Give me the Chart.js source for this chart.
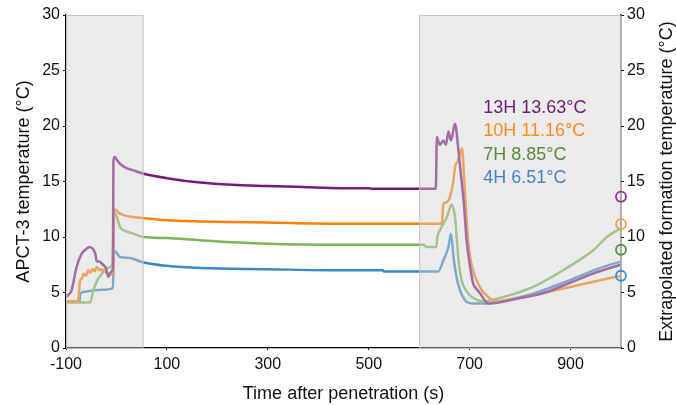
<!DOCTYPE html>
<html>
<head>
<meta charset="utf-8">
<script src="https://cdn.jsdelivr.net/npm/chart.js@4.4.1/dist/chart.umd.min.js"></script>
<style>
  html, body { margin: 0; padding: 0; background: #fff; }
</style>
</head>
<body>
<canvas id="tempChart" width="676" height="405"></canvas>
<script>
// 探针温度数据 (s, °C)
const t13 = [-100, -95, -89, -79, -69, -60, -54, -48, -42, -39, -34, -29, -21, -16, -12, -7, -6, -3, 0, 7, 20, 33, 54, 100, 166, 230, 298, 370, 443, 500, 505, 600, 633, 635, 641, 648, 653, 658, 663, 671, 678, 683, 688, 694, 701, 707, 714, 721, 737, 800, 850, 900, 950, 1000];
const v13 = [4.6, 4.8, 5.2, 7.3, 8.5, 8.9, 9.1, 9.0, 8.5, 7.8, 7.8, 7.6, 7.2, 6.4, 6.8, 7.2, 16.9, 17.2, 17.0, 16.6, 16.2, 16.0, 15.7, 15.3, 14.9, 14.7, 14.6, 14.5, 14.4, 14.4, 14.35, 14.35, 14.35, 19.0, 18.3, 18.7, 18.3, 19.5, 18.7, 20.2, 17.7, 15.5, 13.3, 9.7, 7.3, 5.8, 5.3, 4.9, 4.0, 4.5, 5.0, 5.9, 6.8, 7.5];

const t10 = [-100, -80, -76, -72, -68, -65, -60, -56, -52, -47, -43, -39, -34, -30, -26, -21, -16, -12, -6, -5, -3, 7, 20, 33, 54, 100, 166, 298, 443, 600, 645, 648, 653, 658, 661, 668, 671, 676, 681, 685, 689, 693, 697, 702, 711, 724, 737, 750, 800, 850, 900, 958, 1000];
const v10 = [4.2, 4.2, 4.3, 6.1, 6.3, 6.7, 6.5, 7.0, 6.8, 7.1, 6.9, 7.3, 7.0, 7.1, 7.0, 6.8, 6.7, 6.6, 6.9, 12.3, 12.5, 12.1, 11.9, 11.8, 11.7, 11.5, 11.4, 11.3, 11.2, 11.2, 11.2, 13.0, 13.1, 13.3, 13.6, 15.1, 16.3, 16.8, 17.5, 18.0, 15.4, 12.4, 9.7, 7.9, 6.4, 5.2, 4.6, 4.2, 4.5, 5.0, 5.5, 6.1, 6.5];

const t7 = [-100, -52, -46, -39, -29, -19, -8, -5, -3, 7, 20, 33, 54, 100, 166, 298, 443, 608, 615, 634, 636, 641, 655, 664, 671, 678, 684, 694, 707, 727, 760, 826, 892, 945, 972, 1000];
const v7 = [4.1, 4.1, 5.2, 6.0, 6.7, 7.2, 7.5, 11.9, 12.2, 10.9, 10.5, 10.3, 10.0, 9.9, 9.7, 9.4, 9.3, 9.3, 9.1, 9.1, 10.0, 10.6, 11.8, 12.9, 11.8, 7.9, 6.1, 5.1, 4.5, 4.2, 4.5, 5.5, 7.2, 8.8, 10.0, 10.8];

const t4 = [-100, -73, -72, -59, -30, -7, -5, -3, 7, 27, 54, 100, 166, 298, 443, 528, 530, 638, 648, 658, 663, 668, 674, 681, 691, 707, 734, 760, 826, 892, 958, 1000];
const v4 = [4.2, 4.2, 4.9, 5.1, 5.25, 5.4, 8.6, 8.7, 8.2, 8.1, 7.7, 7.4, 7.2, 7.1, 7.0, 7.0, 6.9, 6.9, 7.9, 9.1, 10.3, 8.2, 6.4, 5.2, 4.3, 4.0, 4.0, 4.2, 4.9, 6.0, 7.2, 7.8];

// 外推地层温度
const probeNames = ['13H', '10H', '7H', '4H'];
const extrapolated = [13.63, 11.16, 8.85, 6.51];

// 坐标轴刻度与阴影区间
const xTicks = [-100, 100, 300, 500, 700, 900];
const shadeRanges = [[-100, 54], [600, 1000]];

const lineColors = ['#7a1a7a', '#ff7f00', '#7db557', '#3a88c6'];
const textColors = ['#6e1d70', '#ff8a1c', '#5a8a3a', '#4a7fd0'];
const circleColors = ['#9a2a9a', '#ff9a40', '#4a9a3a', '#2a90e0'];

const toPoints = (ts, vs) => ts.map((t, i) => ({ x: t, y: vs[i] }));
const series = [[t13, v13], [t10, v10], [t7, v7], [t4, v4]];

const FONT = "'Liberation Sans', Arial, Helvetica, sans-serif";

// 阴影区: 画在曲线之上, 让曲线变淡
const shadePlugin = {
    id: 'shade',
    afterDatasetDraw(chart, args) {
        if (args.index !== 0) return;
        const { ctx, chartArea } = chart;
        const x = chart.scales.x;
        ctx.save();
        shadeRanges.forEach(([a, b]) => {
            const x0 = x.getPixelForValue(a);
            const x1 = x.getPixelForValue(b);
            ctx.fillStyle = 'rgba(210, 210, 210, 0.45)';
            ctx.fillRect(x0, chartArea.top, x1 - x0, chartArea.bottom - chartArea.top);
            ctx.strokeStyle = 'rgba(190, 190, 190, 0.8)';
            ctx.lineWidth = 1;
            ctx.strokeRect(x0 + 0.5, chartArea.top + 0.5, x1 - x0 - 1, chartArea.bottom - chartArea.top);
        });
        ctx.restore();
    }
};

// 图例文字 + 右轴标题
const labelPlugin = {
    id: 'labels',
    afterDraw(chart) {
        const { ctx, chartArea } = chart;
        const x = chart.scales.x, y = chart.scales.y;
        ctx.save();
        ctx.font = '18px ' + FONT;
        ctx.textBaseline = 'middle';
        ctx.textAlign = 'left';
        probeNames.forEach((name, i) => {
            ctx.fillStyle = textColors[i];
            ctx.fillText(name + ' ' + extrapolated[i].toFixed(2) + '°C',
                x.getPixelForValue(727), y.getPixelForValue(21.65 - i * 2.12));
        });
        // 右侧标题 (自下而上)
        ctx.translate(667, (chartArea.top + chartArea.bottom) / 2);
        ctx.rotate(-Math.PI / 2);
        ctx.textAlign = 'center';
        ctx.fillStyle = '#111';
        ctx.fillText('Extrapolated formation temperature (°C)', 0, 0);
        ctx.restore();
    }
};

const datasets = series.map(([ts, vs], i) => ({
    label: probeNames[i],
    data: toPoints(ts, vs),
    borderColor: lineColors[i],
    borderWidth: 2.5,
    pointRadius: 0,
    cubicInterpolationMode: 'monotone',
    fill: false,
    order: 0
}));

datasets.push({
    label: 'extrapolated',
    data: extrapolated.map(v => ({ x: 1000, y: v })),
    showLine: false,
    pointRadius: 5,
    pointBorderWidth: 1.8,
    pointBackgroundColor: 'rgba(0,0,0,0)',
    pointBorderColor: circleColors,
    clip: false,
    order: -1
});

const axisTicks = { color: '#111', font: { family: FONT, size: 16 } };

new Chart(document.getElementById('tempChart').getContext('2d'), {
    type: 'line',
    data: { datasets },
    options: {
        responsive: false,
        devicePixelRatio: 1,
        animation: false,
        layout: { padding: { top: 15, left: 0, right: 0, bottom: 0 } },
        plugins: { legend: { display: false }, tooltip: { enabled: false } },
        scales: {
            x: {
                type: 'linear',
                min: -100,
                max: 1000,
                afterBuildTicks: s => { s.ticks = xTicks.map(v => ({ value: v })); },
                afterFit: s => { s.height = 57; },
                grid: { drawOnChartArea: false, drawTicks: true, tickLength: 2, color: '#000' },
                border: { color: '#000', width: 1.3 },
                ticks: { ...axisTicks, padding: 5, maxRotation: 0 },
                title: {
                    display: true,
                    text: 'Time after penetration (s)',
                    color: '#111',
                    font: { family: FONT, size: 18 },
                    padding: { top: 4, bottom: 0 }
                }
            },
            y: {
                min: 0,
                max: 30,
                afterFit: s => { s.width = 66; },
                grid: { drawOnChartArea: false, drawTicks: true, tickLength: 3, color: '#000' },
                border: { color: '#000', width: 1.3 },
                ticks: { ...axisTicks, stepSize: 5, padding: 3 },
                title: {
                    display: true,
                    text: 'APCT-3 temperature (°C)',
                    color: '#111',
                    font: { family: FONT, size: 18 },
                    padding: { top: 13, bottom: 4 }
                }
            },
            y2: {
                position: 'right',
                min: 0,
                max: 30,
                afterFit: s => { s.width = 55; },
                grid: { drawOnChartArea: false, drawTicks: true, tickLength: 3, color: '#000' },
                border: { color: '#000', width: 1.3 },
                ticks: { ...axisTicks, stepSize: 5, padding: 3 }
            }
        }
    },
    plugins: [shadePlugin, labelPlugin]
});
</script>
</body>
</html>
